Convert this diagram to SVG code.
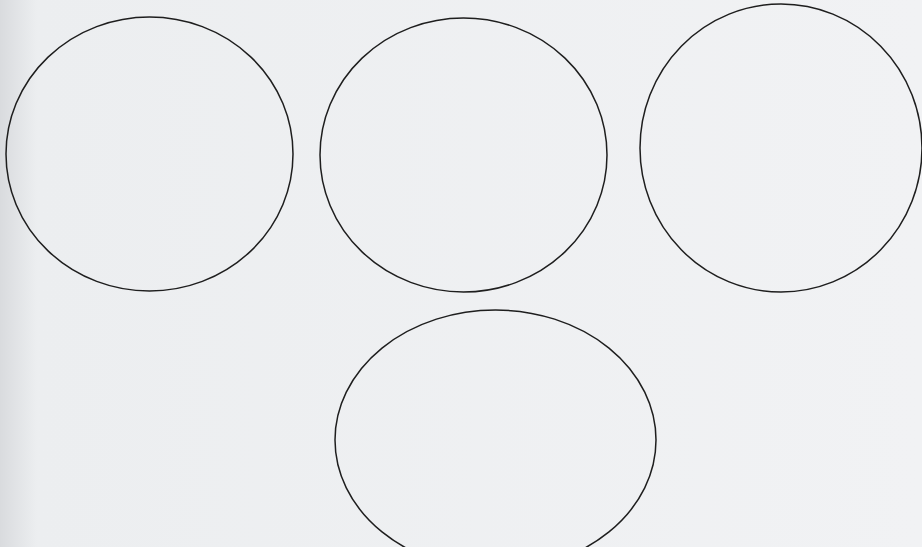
<svg xmlns="http://www.w3.org/2000/svg" width="922" height="547" viewBox="0 0 922 547">
<style>
.c{fill:none;stroke:#1e1e1e;stroke-width:1.5}
</style>
<defs>
<linearGradient id="bg" x1="0" y1="0" x2="1" y2="0">
<stop offset="0" stop-color="#d9dbde"/>
<stop offset="0.04" stop-color="#eceef0"/>
<stop offset="1" stop-color="#f1f2f4"/>
</linearGradient>
</defs>
<rect width="922" height="547" fill="url(#bg)"/>
<g id="circle1"><ellipse class="c" cx="149.5" cy="154" rx="143.5" ry="137"/></g>
<g id="circle2"><ellipse class="c" cx="463.5" cy="155" rx="143.5" ry="137"/></g>
<g id="circle3"><ellipse class="c" cx="781" cy="148" rx="141" ry="144"/></g>
<g id="circle4"><ellipse class="c" cx="495.5" cy="440" rx="160.5" ry="130"/></g>
<g id="connectors"/>
</svg>
